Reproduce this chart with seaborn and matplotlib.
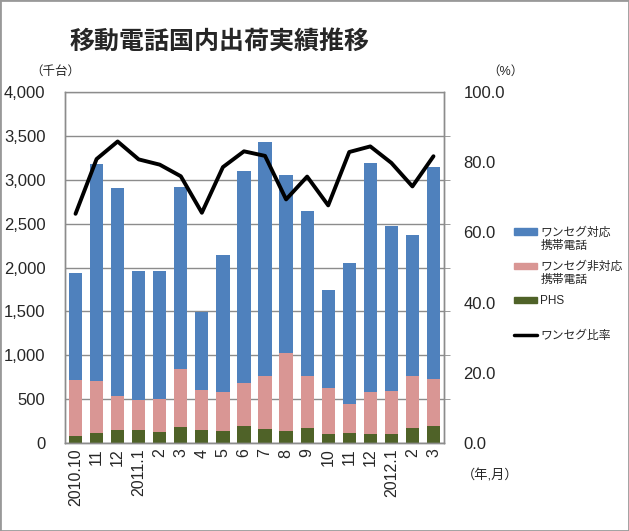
import numpy as np
import pandas as pd
import seaborn as sns
import matplotlib.pyplot as plt
from matplotlib.patches import Patch, Rectangle
from matplotlib.lines import Line2D
from matplotlib.ticker import FuncFormatter, MultipleLocator

# months (unique keys) and the labels shown under the bars
periods = ['2010-10', '2010-11', '2010-12', '2011-01', '2011-02', '2011-03',
           '2011-04', '2011-05', '2011-06', '2011-07', '2011-08', '2011-09',
           '2011-10', '2011-11', '2011-12', '2012-01', '2012-02', '2012-03']
tick_labels = ['2010.10', '11', '12', '2011.1', '2', '3', '4', '5', '6', '7',
               '8', '9', '10', '11', '12', '2012.1', '2', '3']

# shipments in thousand units
phs = [76, 114, 144, 144, 122, 186, 148, 141, 194, 160, 137, 167, 103, 110, 103, 103, 171, 190]
non_oneseg = [638, 589, 388, 346, 383, 661, 456, 436, 490, 600, 885, 597, 524, 334, 478, 490, 593, 539]
oneseg = [1227, 2473, 2374, 1470, 1459, 2074, 893, 1565, 2412, 2666, 2028, 1876, 1117, 1603, 2614, 1876, 1603, 2416]
# one-seg share (%)
ratio = [65.3, 80.9, 85.9, 80.8, 79.3, 76.0, 65.6, 78.6, 83.1, 81.8, 69.4, 75.9,
         67.7, 82.9, 84.5, 79.8, 73.1, 81.7]

blue = '#4F81BD'
pink = '#D99694'
green = '#4F6228'
grey = '#8C8C8C'

sns.set_style('white')
plt.rcParams['font.family'] = ['Liberation Sans', 'Noto Sans CJK JP']

df = pd.DataFrame({'period': periods, 'phs': phs, 'non': non_oneseg, 'one': oneseg})
df['mid'] = df['phs'] + df['non']
df['top'] = df['mid'] + df['one']

fig = plt.figure(figsize=(6.29, 5.31), dpi=100)
ax = fig.add_axes([65 / 629, 1 - 443 / 531, 379 / 629, 351 / 531])

# stacked bars drawn as overlapping cumulative layers
for col, c in [('top', blue), ('mid', pink), ('phs', green)]:
    sns.barplot(data=df, x='period', y=col, color=c, saturation=1, width=0.63,
                linewidth=0, ax=ax)

ax.set_ylim(0, 4000)
ax.set_xlim(-0.5, len(periods) - 0.5)
ax.yaxis.set_major_locator(MultipleLocator(500))
ax.yaxis.set_major_formatter(FuncFormatter(lambda v, p: f'{int(v):,}'))
ax.grid(axis='y', color=grey, lw=1)
ax.set_axisbelow(True)
ax.set_xticks(range(len(periods)))
ax.set_xticklabels(tick_labels, rotation=90, fontsize=11.5)
ax.set_xticks(np.arange(-0.5, len(periods), 1), minor=True)
ax.tick_params(axis='x', which='major', length=0, pad=4)
ax.tick_params(axis='x', which='minor', length=4, color=grey, direction='out')
ax.tick_params(axis='y', length=0, labelsize=12, pad=14)
ax.set_xlabel('')
ax.set_ylabel('')
for s in ax.spines.values():
    s.set_color(grey)
    s.set_linewidth(1)

ax2 = ax.twinx()
sns.lineplot(x=np.arange(len(periods)), y=ratio, color='black', lw=2.8, ax=ax2)
ax2.set_ylim(0, 100)
ax2.set_yticks(np.arange(0, 101, 20))
ax2.yaxis.set_major_formatter(FuncFormatter(lambda v, p: f'{v:.1f}'))
ax2.set_yticks(np.arange(0, 100.1, 12.5), minor=True)
ax2.tick_params(axis='y', which='major', length=0, labelsize=12, pad=14)
ax2.tick_params(axis='y', which='minor', length=4, color=grey, direction='out')
for s in ax2.spines.values():
    s.set_color(grey)
    s.set_linewidth(1)
ax2.spines['top'].set_visible(False)

fig.text(220 / 629, 1 - 42 / 531, '移動電話国内出荷実績推移', ha='center', va='center',
         fontsize=18, fontweight='bold')
fig.text(55 / 629, 1 - 72 / 531, '（千台）', ha='center', va='center', fontsize=9)
fig.text(505 / 629, 1 - 72 / 531, '（%）', ha='center', va='center', fontsize=9)
fig.text(490 / 629, 1 - 476 / 531, '（年,月）', ha='center', va='center', fontsize=9.5)

# legend: one line per entry, second lines added right under the first ones
handles = [Patch(color=blue), Patch(color=pink), Patch(color=green),
           Line2D([], [], color='black', lw=2.5)]
labels = ['ワンセグ対応', 'ワンセグ非対応', 'PHS', 'ワンセグ比率']
second_lines = ['携帯電話', '携帯電話', None, None]
leg = fig.legend(handles, labels, loc='upper left', bbox_to_anchor=(503 / 629, 1 - 216 / 531),
                 frameon=False, fontsize=8.5, handlelength=2.0, handleheight=0.45,
                 labelspacing=1.9, handletextpad=0.25)

fig.canvas.draw()
inv = fig.transFigure.inverted()
for t, extra in zip(leg.get_texts(), second_lines):
    if extra is None:
        continue
    bb = t.get_window_extent()
    x0, y0 = inv.transform((bb.x0, bb.y0))
    fig.text(x0, y0 - 1 / 531, extra, ha='left', va='top', fontsize=8.5)

fig.add_artist(Rectangle((0, 0), 1, 1, transform=fig.transFigure, fill=False,
                         edgecolor='#999999', lw=2))

fig.savefig('out.png', dpi=100)
